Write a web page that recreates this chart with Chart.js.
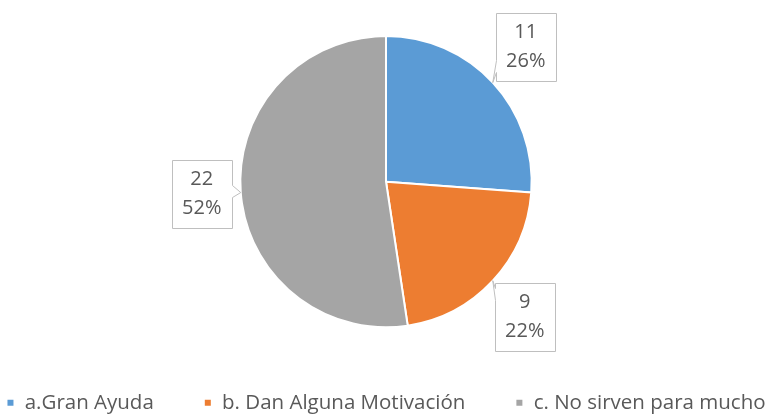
<!DOCTYPE html>
<html>
<head>
<meta charset="utf-8">
<script src="https://cdn.jsdelivr.net/npm/chart.js@4.4.1/dist/chart.umd.min.js"></script>
<style>
  html, body { margin: 0; padding: 0; background: #fff; }
  #wrap { width: 772px; height: 416px; position: relative; }
</style>
</head>
<body>
<div id="wrap"><canvas id="pieChart"></canvas></div>
<script>
const categories = ['a.Gran Ayuda', 'b. Dan Alguna Motivación', 'c. No sirven para mucho'];
const counts = [11, 9, 22];
const percentLabels = ['26%', '22%', '52%'];
const sliceColors = ['#5B9BD5', '#ED7D31', '#A5A5A5'];

// where each callout box sits relative to the slice edge
const labelOffsets = [[33, -36], [32, 36], [-39, 1]];
const boxW = 60, boxH = 68;

const calloutPlugin = {
    id: 'callouts',
    afterDatasetsDraw(chart) {
        const ctx = chart.ctx;
        const meta = chart.getDatasetMeta(0);
        meta.data.forEach((arc, i) => {
            const mid = (arc.startAngle + arc.endAngle) / 2;
            const tip = {
                x: arc.x + Math.cos(mid) * arc.outerRadius,
                y: arc.y + Math.sin(mid) * arc.outerRadius
            };
            const cx = tip.x + labelOffsets[i][0];
            const cy = tip.y + labelOffsets[i][1];
            const L = Math.round(cx - boxW / 2) + 0.5, R = L + boxW;
            const T = Math.round(cy - boxH / 2) + 0.5, B = T + boxH;
            const by = Math.min(Math.max(tip.y, T + 12), B - 14);
            const b1 = by - 7, b2 = by + 5;

            ctx.save();
            ctx.beginPath();
            if (tip.x < L) {
                ctx.moveTo(L, T); ctx.lineTo(R, T); ctx.lineTo(R, B); ctx.lineTo(L, B);
                ctx.lineTo(L, b2); ctx.lineTo(tip.x, tip.y); ctx.lineTo(L, b1);
            } else {
                ctx.moveTo(L, T); ctx.lineTo(R, T); ctx.lineTo(R, b1);
                ctx.lineTo(tip.x, tip.y); ctx.lineTo(R, b2); ctx.lineTo(R, B); ctx.lineTo(L, B);
            }
            ctx.closePath();
            ctx.fillStyle = '#ffffff';
            ctx.fill();
            ctx.strokeStyle = '#BFBFBF';
            ctx.lineWidth = 1;
            ctx.stroke();

            ctx.fillStyle = '#595959';
            ctx.font = '20px "Open Sans"';
            ctx.textAlign = 'center';
            ctx.textBaseline = 'middle';
            ctx.fillText(String(counts[i]), cx, cy - 14);
            ctx.fillText(percentLabels[i], cx, cy + 15);
            ctx.restore();
        });
    }
};

const pieCtx = document.getElementById('pieChart').getContext('2d');
const pieChart = new Chart(pieCtx, {
    type: 'pie',
    data: {
        labels: categories,
        datasets: [{
            data: counts,
            backgroundColor: sliceColors,
            borderColor: '#ffffff',
            borderWidth: 2
        }]
    },
    options: {
        responsive: true,
        maintainAspectRatio: false,
        animation: false,
        layout: {
            // negative side padding lets the wide legend stay on one row
            padding: { top: 35, bottom: -7, left: -50, right: -50 }
        },
        plugins: {
            tooltip: { enabled: false },
            legend: {
                position: 'bottom',
                title: {
                    display: true,
                    text: '',
                    font: { size: 1 },
                    padding: { top: 13, bottom: 0 }
                },
                labels: {
                    boxWidth: 8,
                    boxHeight: 8,
                    padding: 50,
                    color: '#595959',
                    font: { family: '"Open Sans"', size: 20.5 }
                }
            }
        }
    },
    plugins: [calloutPlugin]
});
</script>
</body>
</html>
